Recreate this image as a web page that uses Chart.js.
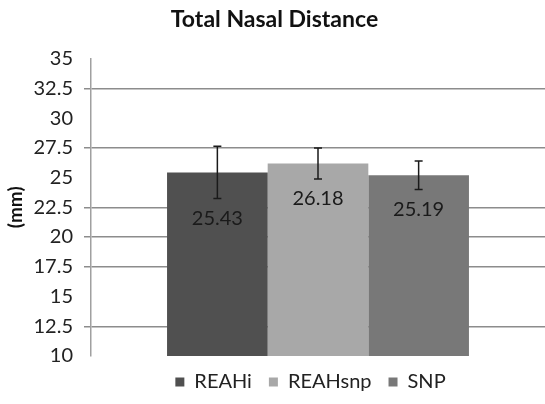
<!DOCTYPE html>
<html>
<head>
<meta charset="utf-8">
<script src="https://cdn.jsdelivr.net/npm/chart.js@4/dist/chart.umd.min.js"></script>
<style>
  html, body { margin: 0; padding: 0; background: #fff; }
  #wrap { width: 545px; height: 404px; }
</style>
</head>
<body>
<div id="wrap"><canvas id="myChart"></canvas></div>
<script>
// datos del grafico
const groups = ["REAHi", "REAHsnp", "SNP"];
const means = [25.43, 26.18, 25.19];
const errors = [2.2, 1.3, 1.2];
const barColors = ["#505050", "#a8a8a8", "#787878"];
const yTicks = [10, 12.5, 15, 17.5, 20, 22.5, 25, 27.5, 30, 32.5, 35];
// lineas de la cuadricula que se ven en la imagen
const shownGrid = [12.5, 17.5, 20, 22.5, 27.5, 32.5];

const FONT = "Lato, 'Liberation Sans', sans-serif";

// barras de error y etiquetas de valor
const extras = {
  id: "extras",
  afterLayout(chart) {
    // mover la leyenda justo debajo del area del grafico
    const lg = chart.legend;
    const h = lg.bottom - lg.top;
    lg.left = chart.chartArea.left - 15;
    lg.top = chart.chartArea.bottom - 1;
    lg.bottom = lg.top + h;
  },
  afterDatasetsDraw(chart) {
    const ctx = chart.ctx;
    const y = chart.scales.y;
    ctx.save();
    chart.data.datasets.forEach((ds, i) => {
      const bar = chart.getDatasetMeta(i).data[0];
      const hi = y.getPixelForValue(means[i] + errors[i]);
      const lo = y.getPixelForValue(means[i] - errors[i]);
      ctx.strokeStyle = "#1a1a1a";
      ctx.lineWidth = 1.5;
      ctx.beginPath();
      ctx.moveTo(bar.x, hi); ctx.lineTo(bar.x, lo);
      ctx.moveTo(bar.x - 4, hi); ctx.lineTo(bar.x + 4, hi);
      ctx.moveTo(bar.x - 4, lo); ctx.lineTo(bar.x + 4, lo);
      ctx.stroke();
      ctx.fillStyle = "#1a1a1a";
      ctx.font = "20px " + FONT;
      ctx.textAlign = "center";
      ctx.textBaseline = "middle";
      ctx.fillText(means[i].toFixed(2), bar.x, lo + 20);
    });
    ctx.restore();
  }
};

let miCanvas = document.getElementById("myChart").getContext("2d");

var chart = new Chart(miCanvas, {
  type: "bar",
  data: {
    labels: ["Total Nasal Distance"],
    datasets: groups.map((g, i) => ({
      label: g,
      data: [means[i]],
      backgroundColor: barColors[i],
      borderWidth: 0
    }))
  },
  options: {
    responsive: true,
    maintainAspectRatio: false,
    animation: false,
    layout: { padding: { left: 4, right: 0, top: 0, bottom: 1 } },
    datasets: { bar: { categoryPercentage: 0.665, barPercentage: 1 } },
    plugins: {
      title: {
        display: true,
        text: "Total Nasal Distance",
        color: "#111",
        font: { family: FONT, size: 23, weight: "bold" },
        padding: { top: 6, bottom: 25 }
      },
      legend: {
        position: "bottom",
        labels: {
          color: "#222",
          font: { family: FONT, size: 20 },
          boxWidth: 9,
          boxHeight: 9,
          padding: 17
        }
      },
      tooltip: { enabled: false }
    },
    scales: {
      x: {
        ticks: { display: false },
        grid: { display: false },
        border: { display: false },
        afterFit: (s) => { s.height = 0; }
      },
      y: {
        min: 10,
        max: 35,
        afterBuildTicks: (s) => { s.ticks = yTicks.map(v => ({ value: v })); },
        afterFit: (s) => { s.width = 87; },
        title: {
          display: true,
          text: "(mm)",
          color: "#111",
          font: { family: FONT, size: 19, weight: "bold" },
          padding: 0
        },
        ticks: {
          color: "#222",
          font: { family: FONT, size: 20 },
          padding: 11
        },
        grid: {
          color: (c) => shownGrid.includes(c.tick.value) ? "#8c8c8c" : "rgba(0,0,0,0)",
          lineWidth: 1.5,
          tickLength: 7
        },
        border: { display: true, color: "#a0a0a0", width: 1.5 }
      }
    }
  },
  plugins: [extras]
});
</script>
</body>
</html>
